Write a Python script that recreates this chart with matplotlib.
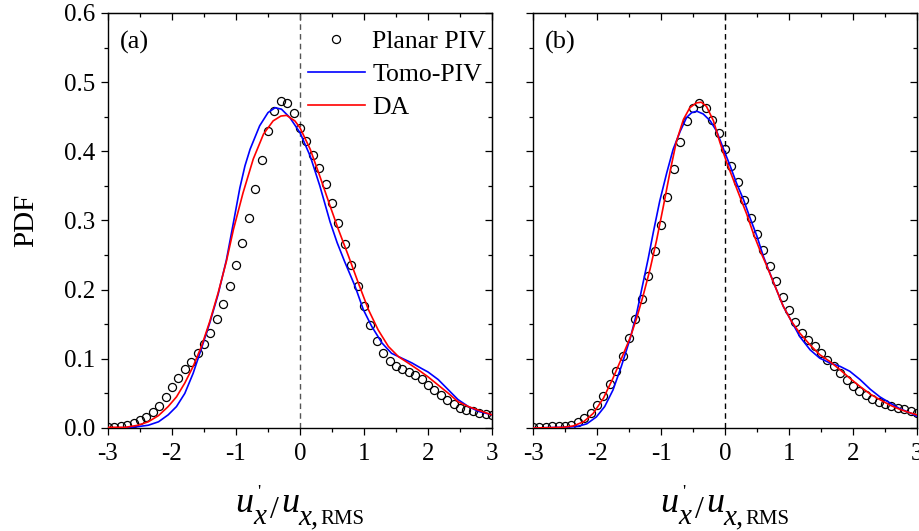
import matplotlib.pyplot as plt
from matplotlib.lines import Line2D
from matplotlib.ticker import MultipleLocator

plt.rcParams['font.family'] = 'Liberation Serif'

# sample positions of the planar PIV histogram
x_piv = [-3.0, -2.9, -2.8, -2.7, -2.6, -2.5, -2.4, -2.3, -2.2, -2.1,
         -2.0, -1.9, -1.8, -1.7, -1.6, -1.5, -1.4, -1.3, -1.2, -1.1,
         -1.0, -0.9, -0.8, -0.7, -0.6, -0.5, -0.4, -0.3, -0.2, -0.1,
         0.0, 0.1, 0.2, 0.3, 0.4, 0.5, 0.6, 0.7, 0.8, 0.9,
         1.0, 1.1, 1.2, 1.3, 1.4, 1.5, 1.6, 1.7, 1.8, 1.9,
         2.0, 2.1, 2.2, 2.3, 2.4, 2.5, 2.6, 2.7, 2.8, 2.9, 3.0]

# (a)
piv_a = [0.002, 0.002, 0.003, 0.004, 0.007, 0.011, 0.016, 0.023, 0.032, 0.045,
         0.059, 0.072, 0.085, 0.096, 0.109, 0.122, 0.138, 0.158, 0.180, 0.206,
         0.235, 0.267, 0.304, 0.346, 0.388, 0.429, 0.458, 0.473, 0.470, 0.456,
         0.434, 0.415, 0.395, 0.376, 0.353, 0.326, 0.296, 0.266, 0.235, 0.205,
         0.177, 0.149, 0.126, 0.108, 0.097, 0.090, 0.085, 0.081, 0.077, 0.071,
         0.062, 0.055, 0.048, 0.041, 0.034, 0.029, 0.026, 0.024, 0.022, 0.020, 0.019]

x_tomo_a = [-3.00, -2.73, -2.53, -2.37, -2.21, -2.06, -1.93, -1.80, -1.67, -1.54,
            -1.41, -1.28, -1.15, -1.04, -0.94, -0.86, -0.78, -0.63, -0.50, -0.39,
            -0.29, -0.16, 0.00, 0.16, 0.31, 0.47, 0.58, 0.70, 0.86, 0.99,
            1.12, 1.28, 1.43, 1.59, 1.75, 1.90, 2.00, 2.16, 2.32, 2.47,
            2.63, 2.79, 3.00]
tomo_a = [0.000, 0.0005, 0.002, 0.004, 0.009, 0.019, 0.031, 0.050, 0.079, 0.115,
          0.152, 0.193, 0.243, 0.297, 0.347, 0.379, 0.403, 0.437, 0.456, 0.463,
          0.461, 0.449, 0.427, 0.393, 0.350, 0.298, 0.268, 0.240, 0.205, 0.171,
          0.147, 0.123, 0.108, 0.101, 0.094, 0.086, 0.081, 0.070, 0.055, 0.041,
          0.031, 0.024, 0.019]

x_da_a = [-3.00, -2.73, -2.53, -2.37, -2.21, -2.06, -1.93, -1.80, -1.67, -1.54,
          -1.41, -1.28, -1.15, -1.04, -0.89, -0.73, -0.57, -0.42, -0.30, -0.21,
          -0.08, 0.00, 0.16, 0.31, 0.47, 0.60, 0.76, 0.91, 1.07, 1.22,
          1.38, 1.54, 1.69, 1.85, 2.00, 2.16, 2.32, 2.47, 2.63, 2.84, 3.00]
da_a = [0.001, 0.001, 0.004, 0.009, 0.018, 0.031, 0.045, 0.065, 0.089, 0.118,
        0.154, 0.195, 0.241, 0.287, 0.340, 0.389, 0.425, 0.444, 0.451, 0.452,
        0.444, 0.434, 0.403, 0.364, 0.321, 0.287, 0.248, 0.210, 0.171, 0.142,
        0.118, 0.103, 0.094, 0.084, 0.074, 0.062, 0.050, 0.038, 0.031, 0.024, 0.019]

# (b)
piv_b = [0.002, 0.002, 0.002, 0.003, 0.003, 0.003, 0.005, 0.009, 0.015, 0.022,
         0.033, 0.046, 0.064, 0.083, 0.104, 0.130, 0.158, 0.187, 0.220, 0.256,
         0.293, 0.334, 0.374, 0.413, 0.444, 0.463, 0.470, 0.463, 0.445, 0.426,
         0.403, 0.379, 0.355, 0.329, 0.304, 0.280, 0.257, 0.234, 0.212, 0.189,
         0.170, 0.153, 0.138, 0.127, 0.118, 0.108, 0.099, 0.089, 0.079, 0.070,
         0.061, 0.054, 0.047, 0.042, 0.037, 0.034, 0.032, 0.029, 0.0275, 0.025, 0.021]

x_tomo_b = [-3.00, -2.53, -2.32, -2.16, -2.01, -1.88, -1.75, -1.62, -1.48, -1.38,
            -1.28, -1.20, -1.12, -1.02, -0.91, -0.81, -0.70, -0.60, -0.52, -0.44,
            -0.34, -0.23, -0.13, -0.03, 0.08, 0.18, 0.29, 0.39, 0.50, 0.60,
            0.76, 0.91, 1.04, 1.17, 1.33, 1.48, 1.64, 1.80, 1.95, 2.11,
            2.27, 2.42, 2.58, 2.73, 2.89, 3.00]
tomo_b = [0.000, 0.001, 0.002, 0.006, 0.016, 0.031, 0.055, 0.089, 0.130, 0.166,
          0.210, 0.245, 0.283, 0.328, 0.369, 0.403, 0.429, 0.449, 0.456, 0.458,
          0.454, 0.444, 0.429, 0.405, 0.379, 0.354, 0.330, 0.304, 0.277, 0.248,
          0.210, 0.176, 0.154, 0.132, 0.113, 0.101, 0.094, 0.089, 0.082, 0.070,
          0.056, 0.045, 0.036, 0.028, 0.022, 0.017]

x_da_b = [-3.00, -2.73, -2.53, -2.37, -2.21, -2.06, -1.90, -1.75, -1.62, -1.48,
          -1.38, -1.28, -1.17, -1.07, -0.96, -0.86, -0.76, -0.65, -0.55, -0.45,
          -0.37, -0.29, -0.18, -0.08, 0.03, 0.13, 0.23, 0.34, 0.44, 0.55,
          0.65, 0.76, 0.91, 1.04, 1.17, 1.33, 1.48, 1.64, 1.80, 1.95,
          2.11, 2.27, 2.42, 2.58, 2.73, 2.89, 3.00]
da_b = [0.000, 0.0005, 0.001, 0.003, 0.009, 0.021, 0.043, 0.072, 0.100, 0.131,
        0.159, 0.191, 0.230, 0.271, 0.322, 0.370, 0.414, 0.446, 0.463, 0.470,
        0.471, 0.465, 0.444, 0.413, 0.383, 0.359, 0.335, 0.309, 0.282, 0.256,
        0.235, 0.210, 0.176, 0.154, 0.137, 0.120, 0.106, 0.096, 0.084, 0.072,
        0.060, 0.049, 0.041, 0.033, 0.027, 0.022, 0.019]

panels = [
    ('(a)', piv_a, x_tomo_a, tomo_a, x_da_a, da_a, '#555555'),
    ('(b)', piv_b, x_tomo_b, tomo_b, x_da_b, da_b, 'black'),
]

W, H = 920, 531
fig = plt.figure(figsize=(W / 100, H / 100), dpi=100)

ax_left = [108, 533]
ax_w, ax_top, ax_bot = 384, 13, 428


def axes_rect(x0):
    return [x0 / W, 1 - ax_bot / H, ax_w / W, (ax_bot - ax_top) / H]


def draw_xlabel(shift):
    # u'_x / u_{x, RMS} built from separate pieces
    pieces = [
        ('u', 235, 512, 26, 'italic'),
        ("'", 257, 498, 13, 'normal'),
        ('x', 253, 524, 21, 'italic'),
        ('/', 270, 518, 23, 'normal'),
        ('u', 281, 512, 26, 'italic'),
        ('x,', 298, 524, 21, 'italic'),
        ('RMS', 320, 524, 15, 'normal'),
    ]
    for s, px, py, fs, st in pieces:
        fig.text((px + shift) / W, 1 - py / H, s, ha='left', va='baseline',
                 fontsize=fs, style=st)


for k, (tag, piv, xt, tomo, xd, da, dash_col) in enumerate(panels):
    ax = fig.add_axes(axes_rect(ax_left[k]))
    ax.axvline(0, color=dash_col, ls=(0, (4, 3)), lw=1.0, zorder=1)
    ax.plot(x_piv, piv, ls='none', marker='o', ms=5.8, mfc='none',
            mec='black', mew=0.9, label='Planar PIV', zorder=3)
    ax.plot(xt, tomo, color='#0000ff', lw=1.2, label='Tomo-PIV', zorder=4)
    ax.plot(xd, da, color='#ff0000', lw=1.2, label='DA', zorder=5)

    ax.set_xlim(-3, 3)
    ax.set_ylim(0, 0.6)
    ax.xaxis.set_major_locator(MultipleLocator(1))
    ax.xaxis.set_minor_locator(MultipleLocator(0.5))
    ax.yaxis.set_major_locator(MultipleLocator(0.1))
    ax.yaxis.set_minor_locator(MultipleLocator(0.05))
    ax.tick_params(which='both', direction='out', width=0.9, labelsize=18)
    ax.tick_params(which='major', length=5)
    ax.tick_params(which='minor', length=3)
    ax.tick_params(axis='x', pad=6)
    ax.tick_params(axis='y', pad=4)
    ax.set_xticks([-3, -2, -1, 0, 1, 2, 3])
    ax.set_xticklabels(['-3', '-2', '-1', '0', '1', '2', '3'])
    for sp in ax.spines.values():
        sp.set_linewidth(1.0)

    # mirrored ticks on top and right point inward
    top = ax.secondary_xaxis('top')
    top.xaxis.set_major_locator(MultipleLocator(1))
    top.xaxis.set_minor_locator(MultipleLocator(0.5))
    top.tick_params(which='both', direction='in', width=0.9, labeltop=False)
    top.tick_params(which='major', length=5)
    top.tick_params(which='minor', length=3)
    right = ax.secondary_yaxis('right')
    right.yaxis.set_major_locator(MultipleLocator(0.1))
    right.yaxis.set_minor_locator(MultipleLocator(0.05))
    right.tick_params(which='both', direction='in', width=0.9, labelright=False)
    right.tick_params(which='major', length=5)
    right.tick_params(which='minor', length=3)

    ax.text(0.031, 0.930, tag, transform=ax.transAxes, fontsize=19,
            ha='left', va='center')

    if k == 0:
        ax.set_yticks([0, 0.1, 0.2, 0.3, 0.4, 0.5, 0.6])
        ax.set_yticklabels(['0.0', '0.1', '0.2', '0.3', '0.4', '0.5', '0.6'])
        ax.set_ylabel('PDF', fontsize=21, labelpad=18)
        handles = [
            Line2D([], [], ls='none', marker='o', ms=5.8, mfc='none',
                   mec='black', mew=0.9),
            Line2D([], [], color='#0000ff', lw=1.2),
            Line2D([], [], color='#ff0000', lw=1.2),
        ]
        ax.legend(handles, ['Planar PIV', 'Tomo-PIV', 'DA'], loc='upper left',
                  bbox_to_anchor=(0.521, 0.958), frameon=False, fontsize=18.5,
                  handlelength=2.2, handletextpad=0.3, labelspacing=0.38,
                  borderpad=0, borderaxespad=0, numpoints=1)
    else:
        ax.tick_params(axis='y', labelleft=False)

    draw_xlabel(0 if k == 0 else 425)

fig.savefig('out.png', dpi=100)
